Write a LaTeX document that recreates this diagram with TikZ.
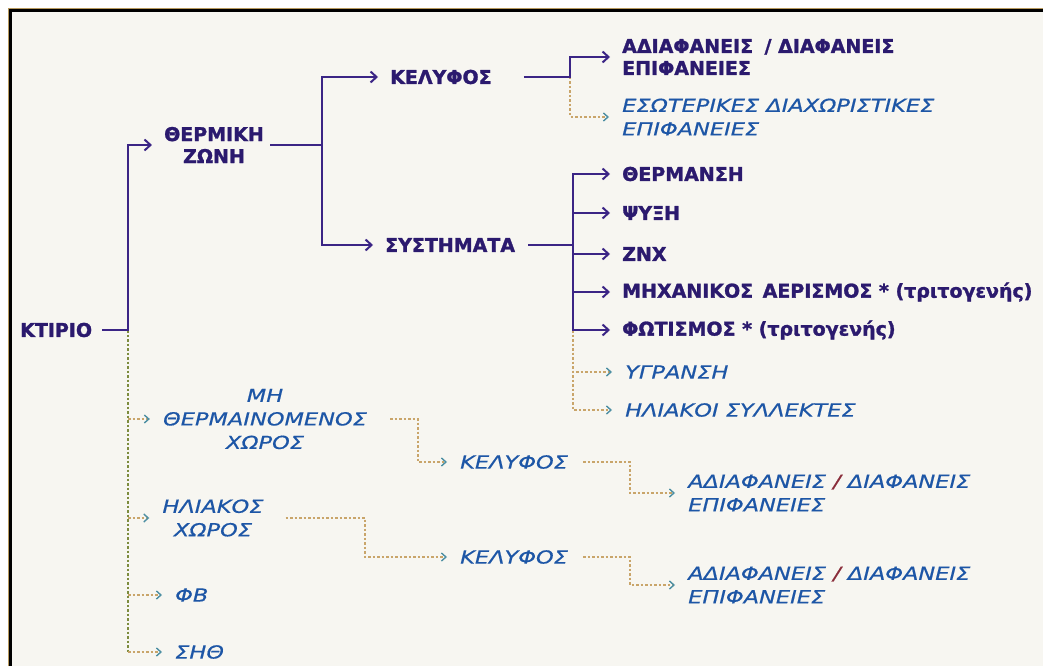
\documentclass[tikz,border=0pt]{standalone}
\usepackage{fontspec}
\setmainfont{DejaVu Sans}
\newfontfamily\bfnt[FakeBold=1.4]{DejaVu Sans Bold}
\newfontfamily\itfnt[FakeStretch=1.25,FakeBold=0.6]{DejaVu Sans Oblique}
\usetikzlibrary{arrows.meta}
\definecolor{bgc}{HTML}{F7F6F1}
\definecolor{ink}{HTML}{2B1A6E}
\definecolor{linec}{HTML}{3B2585}
\definecolor{itc}{HTML}{1D56A6}
\definecolor{dotc}{HTML}{C9A56A}
\definecolor{olivec}{HTML}{7D8C3E}
\definecolor{tipc}{HTML}{4D8FA3}
\definecolor{framet}{HTML}{B89A5E}
\definecolor{slashc}{HTML}{8A2D3A}
\begin{document}
\begin{tikzpicture}[x=1pt,y=-1pt,
 bt/.style={font=\bfnt\fontsize{19}{22}\selectfont, text=ink, inner xsep=6pt, inner ysep=0pt, anchor=west, align=left},
 it/.style={font=\itfnt\fontsize{18}{23.5}\selectfont, text=itc, inner xsep=6pt, inner ysep=0pt, anchor=west, align=left},
 sl/.style={draw=linec, line width=2.4pt},
 sa/.style={sl, -{Straight Barb[length=6pt,width=11pt,line width=2pt]}, shorten >=6pt},
 dl/.style={draw=dotc, line width=2pt, dash pattern=on 2.5pt off 2pt},
 da/.style={dl, -{Straight Barb[length=4.5pt,width=8pt,line width=1.4pt,color=tipc]}, shorten >=7pt},
]
\useasboundingbox (0,0) rectangle (1043,666);
\fill[white] (0,0) rectangle (1043,666);
\fill[bgc] (12,12) rectangle (1043,666);
\draw[framet, line width=1.2pt] (8.6,666) -- (8.6,8.6) -- (1043,8.6);
\draw[black, line width=3pt] (10.8,666) -- (10.8,10.8) -- (1043,10.8);

% nodes
\node[bt] (ktirio) at (14,330) {ΚΤΙΡΙΟ};
\node[bt, anchor=center, align=center] (thermiki) at (214,145) {ΘΕΡΜΙΚΗ\\ΖΩΝΗ};
\node[bt] (kelyfos) at (384,77) {ΚΕΛΥΦΟΣ};
\node[bt] (systimata) at (379,245) {ΣΥΣΤΗΜΑΤΑ};
\node[bt] (adiaf) at (616,57) {ΑΔΙΑΦΑΝΕΙΣ\hspace{0.6em}/ ΔΙΑΦΑΝΕΙΣ\\ΕΠΙΦΑΝΕΙΕΣ};
\node[it] (esot) at (616,117) {ΕΣΩΤΕΡΙΚΕΣ ΔΙΑΧΩΡΙΣΤΙΚΕΣ\\ΕΠΙΦΑΝΕΙΕΣ};
\node[bt] (therm) at (616,174) {ΘΕΡΜΑΝΣΗ};
\node[bt] (psyxi) at (616,213) {ΨΥΞΗ};
\node[bt] (znx) at (616,254) {ΖΝΧ};
\node[bt] (mixan) at (616,292) {ΜΗΧΑΝΙΚΟΣ\hspace{0.5em}ΑΕΡΙΣΜΟΣ * (τριτογενής)};
\node[bt] (fotis) at (616,330) {ΦΩΤΙΣΜΟΣ * (τριτογενής)};
\node[it] (ygr) at (619,372) {ΥΓΡΑΝΣΗ};
\node[it] (ilsyl) at (619,410) {ΗΛΙΑΚΟΙ ΣΥΛΛΕΚΤΕΣ};
\node[it, anchor=center, align=center] (mh) at (265,419) {ΜΗ\\ΘΕΡΜΑΙΝΟΜΕΝΟΣ\\ΧΩΡΟΣ};
\node[it] (kel2) at (454,462) {ΚΕΛΥΦΟΣ};
\node[it] (adiaf2) at (682,493) {ΑΔΙΑΦΑΝΕΙΣ {\color{slashc}/} ΔΙΑΦΑΝΕΙΣ\\ΕΠΙΦΑΝΕΙΕΣ};
\node[it, anchor=center, align=center] (iliakos) at (213,518) {ΗΛΙΑΚΟΣ\\ΧΩΡΟΣ};
\node[it] (kel3) at (454,557) {ΚΕΛΥΦΟΣ};
\node[it] (adiaf3) at (682,585) {ΑΔΙΑΦΑΝΕΙΣ {\color{slashc}/} ΔΙΑΦΑΝΕΙΣ\\ΕΠΙΦΑΝΕΙΕΣ};
\node[it] (fb) at (169,595) {ΦΒ};
\node[it] (sith) at (169,652) {ΣΗΘ};

% junction columns
\coordinate (j0) at (128,0);
\coordinate (j1) at (322,0);
\coordinate (j2) at (570,0);
\coordinate (j3) at (573,0);
\coordinate (j4) at (418,0);
\coordinate (j5) at (365,0);
\coordinate (j6) at (630,0);

% dotted trunk from KTIPIO
\draw[dl, draw=olivec] (ktirio.east -| j0) -- (sith.west -| j0);
\foreach \n in {mh,iliakos,fb,sith}
  \draw[da] (\n.west -| j0) -- (\n.west);

% solid connectors
\draw[sa, shorten <=4pt] (ktirio.east) -- (ktirio.east -| j0) |- (thermiki.west);
\draw[sl] (thermiki.east) -- (thermiki.east -| j1);
\draw[sa] (thermiki.east -| j1) |- (kelyfos.west);
\draw[sa] (thermiki.east -| j1) |- (systimata.west);
\draw[da] (kelyfos.east -| j2) |- (esot.west);
\draw[sa, shorten <=26pt] (kelyfos.east) -- (kelyfos.east -| j2) |- (adiaf.west);
\draw[da] (fotis.west -| j3) |- (ygr.west);
\draw[da] (fotis.west -| j3) |- (ilsyl.west);
\draw[sl, shorten <=7pt] (systimata.east) -- (systimata.east -| j3);
\foreach \n in {therm,psyxi,znx,mixan,fotis}
  \draw[sa] (systimata.east -| j3) |- (\n.west);

% dotted connectors of the lower part
\draw[da, shorten <=17pt] (mh.east) -- (mh.east -| j4) |- (kel2.west);
\draw[da, shorten <=16pt] (iliakos.east) -- (iliakos.east -| j5) |- (kel3.west);
\draw[da, shorten <=9pt] (kel2.east) -- (kel2.east -| j6) |- (adiaf2.west);
\draw[da, shorten <=9pt] (kel3.east) -- (kel3.east -| j6) |- (adiaf3.west);
\end{tikzpicture}
\end{document}
